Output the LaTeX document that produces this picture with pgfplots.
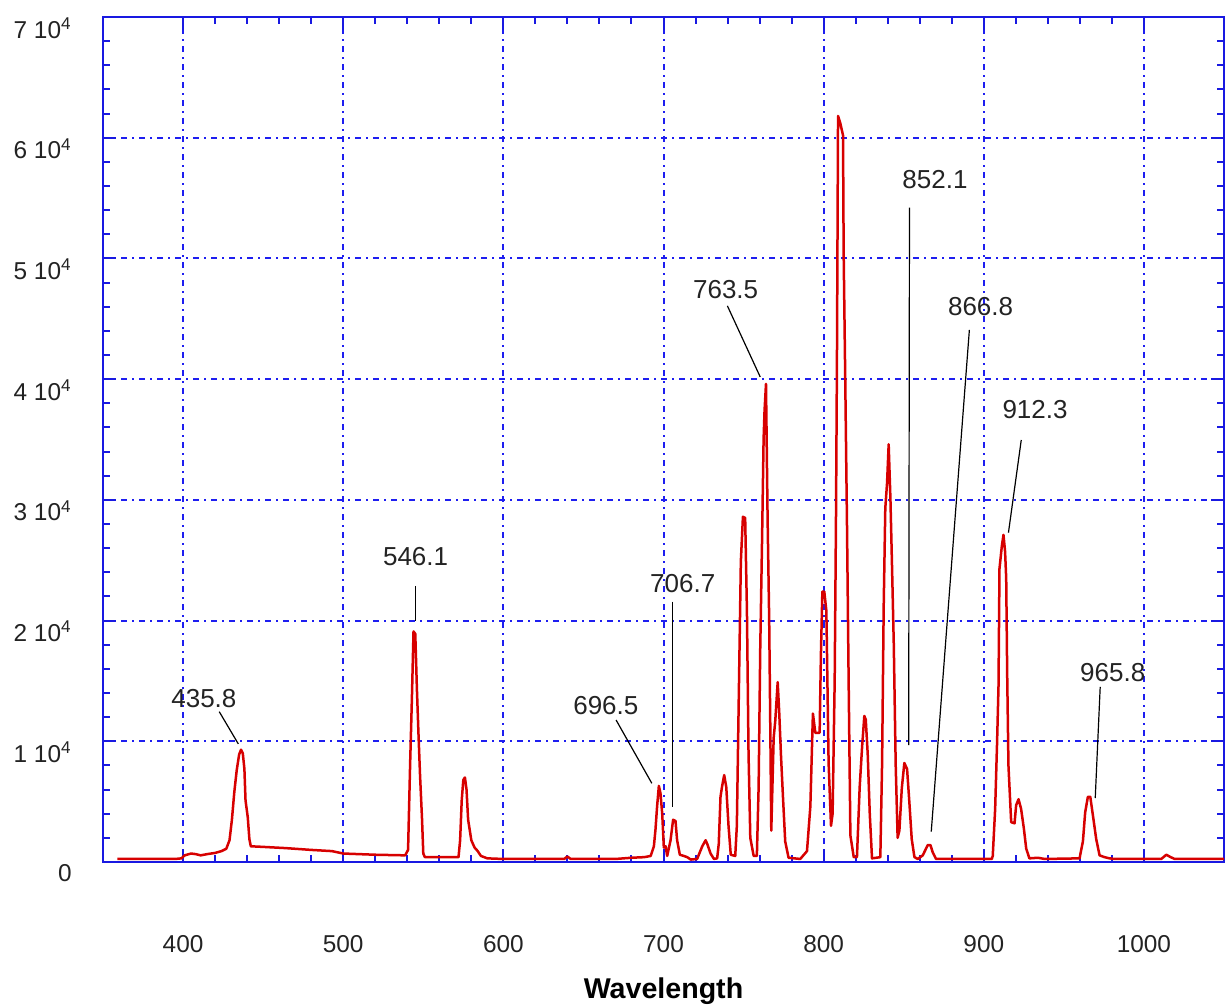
\documentclass[border=0pt]{standalone}
\usepackage{pgfplots}
\pgfplotsset{compat=1.18}
\usepackage{fontspec}
\setmainfont{Liberation Sans}
\definecolor{specred}{RGB}{215,0,0}
\definecolor{axblue}{RGB}{25,25,225}
\definecolor{gridblue}{RGB}{30,30,240}
\definecolor{txt}{RGB}{35,35,35}
\begin{document}
\begin{tikzpicture}
\begin{axis}[
  scale only axis, width=560.5bp, height=422.5bp,
  xmin=350, xmax=1050, ymin=0, ymax=70000,
  axis line style={axblue, line width=1bp},
  xtick={400,500,600,700,800,900,1000},
  xticklabels={400,500,600,700,800,900,1000},
  ytick={0,10000,20000,30000,40000,50000,60000,70000},
  yticklabels={0,{1 10\textsuperscript{4}},{2 10\textsuperscript{4}},{3 10\textsuperscript{4}},{4 10\textsuperscript{4}},{5 10\textsuperscript{4}},{6 10\textsuperscript{4}},{7 10\textsuperscript{4}}},
  minor x tick num=4, minor y tick num=4,
  tick align=inside,
  major tick length=6.5bp, minor tick length=3.5bp,
  every tick/.style={axblue, line width=1bp},
  grid=major,
  grid style={gridblue},
  major grid style={draw=gridblue, line width=1bp, dash pattern=on 3bp off 2.5bp on 1bp off 2.5bp},
  scaled y ticks=false,
  xticklabel style={font=\fontsize{12.2bp}{14bp}\selectfont, text=txt, inner sep=0pt, anchor=north},
  xticklabel shift=36.5bp,
  yticklabel style={font=\fontsize{12.2bp}{14bp}\selectfont, text=txt, inner sep=0pt, anchor=east, yshift=-5.5bp},
  yticklabel shift=15.5bp,
  xlabel={\textbf{Wavelength}},
  xlabel style={font=\fontsize{14.3bp}{16bp}\selectfont, text=black, inner sep=0pt, anchor=north, at={(axis description cs:0.5,0)}, yshift=-57.5bp},
]
\addplot[specred, line width=1.25bp, line join=round] coordinates {
(359,250) (372,250) (380,250) (395,250) (399,300) (401,550) (405,700) (408,650)
(411,550) (415,650) (420,750) (424,900) (427,1100) (429,1800) (430.5,3500) (432,5800)
(433.5,7600) (435,8900) (436.2,9300) (437.3,9000) (438.3,7700) (439,5100) (440.4,3700)
(441.4,1900) (442.3,1300) (450,1250) (464,1150) (480,1000) (493,900) (500,700) (520,600)
(538.7,550) (540.5,1000) (541.8,8200) (542.9,13600) (543.9,19100) (545,18900) (546,14400)
(547,10600) (548,7100) (549.2,3600) (550,700) (551,400) (572,400) (573,1800) (574,5100)
(575,6800) (576,7000) (577,6000) (578,3500) (580,1800) (582,1200) (584,900) (586,500)
(590,300) (600,250) (620,250) (638,250) (640,450) (642,250) (670,250) (680,350) (688,400)
(692,500) (694,1300) (695,2700) (696,4600) (697.1,6300) (698.1,5700) (699.2,4000)
(700.2,1200) (701.3,1300) (702.3,500) (704.4,1800) (706,3500) (707.5,3400) (708.5,1800)
(710.2,600) (712.7,500) (714.8,400) (717,200) (721,250) (724.2,1300) (726.3,1800)
(727.3,1500) (729.4,700) (731.5,250) (733.5,300) (734.5,1500) (735.6,5400) (736.5,6200)
(737.9,7200) (739.2,6200) (740.6,3000) (742,600) (744.8,500) (745.8,3000) (746.9,12700)
(748.3,24900) (749.6,28600) (751,28500) (752.1,20800) (753.1,9000) (754.2,2000)
(756.3,500) (758.3,500) (759.4,6200) (760.4,17600) (761.5,26300) (762.5,35000)
(763.1,37400) (764,39600) (765,28500) (766,20000) (766.7,11000) (767.3,2600)
(768.8,10300) (769.8,11700) (771.3,14900) (772.3,12300) (773.3,9000) (774.6,5400)
(776,1700) (778.1,350) (785.4,250) (789.6,900) (791.7,4600) (793.3,12300) (794.8,10700)
(797.5,10700) (798.3,17200) (799.2,22400) (800.4,22400) (801.7,20800) (802.1,17200)
(803.1,8200) (804.6,3000) (805.6,4000) (806.9,15100) (807.7,28300) (808.3,41300)
(809,61800) (810.4,61200) (812.1,60200) (812.5,50400) (813.5,39900) (814.6,27700)
(815.6,15100) (816.7,2200) (818.8,400) (820.8,400) (822.5,6200) (824,9500) (825.4,12100)
(826.3,11800) (827.5,9000) (828.8,4000) (830.2,300) (835.4,400) (836.5,8200)
(837.5,21200) (838.5,29300) (839.6,31400) (840.6,34600) (841.7,30100) (842.7,24500)
(843.8,18000) (845,8000) (846.2,2000) (847.3,2600) (848.8,6100) (850.4,8200)
(852.1,7700) (853.5,5000) (855,1900) (856.7,400) (858.8,250) (861.9,550) (865,1400)
(866.7,1400) (868.1,800) (870.2,250) (905,250) (905.6,500) (907.1,4400) (908.3,9900)
(909.2,14600) (909.8,24300) (911.3,26200) (912.3,27100) (913.3,25700) (914,23500)
(914.6,15700) (915.4,8000) (917.1,3300) (919.2,3200) (920.2,4700) (921.7,5200)
(923.3,4400) (925,2800) (926.5,1100) (928.5,300) (933.8,350) (938,250) (959.8,300)
(961.9,1700) (963.3,4100) (965,5400) (966.5,5400) (968.1,3900) (970.2,1900)
(972.3,550) (975.4,400) (978.5,300) (981.7,250) (1010.8,250) (1014,600) (1016.7,400)
(1019.2,250) (1050,250)
};
\tikzset{lab/.style={text=txt, inner sep=0pt, font=\fontsize{13bp}{15bp}\selectfont}, lead/.style={black, line width=0.6bp}}
\draw[lead] (422.6,12450) -- (434.5,9780);
\node[lab] at (413,13560) {435.8};
\draw[lead] (544.9,22870) -- (544.9,19970);
\node[lab] at (545.2,25270) {546.1};
\draw[lead] (670.4,11760) -- (692.7,6520);
\node[lab] at (664,12920) {696.5};
\draw[lead] (705.6,21570) -- (705.6,4580);
\node[lab] at (712,23080) {706.7};
\draw[lead] (739.9,46070) -- (760.4,40180);
\node[lab] at (738.8,47390) {763.5};
\draw[lead] (853.6,54210) -- (853.1,9690);
\node[lab] at (869.5,56500) {852.1};
\draw[lead] (891,44080) -- (867.2,2520);
\node[lab] at (898,46000) {866.8};
\draw[lead] (923.4,34960) -- (915.4,27280);
\node[lab] at (932,37450) {912.3};
\draw[lead] (972.7,14510) -- (969.6,5300);
\node[lab] at (980.5,15710) {965.8};
\end{axis}
\pgfresetboundingbox
\path ([shift={(-51.5bp,-73bp)}]current axis.south west) rectangle ([shift={(1.5bp,8.5bp)}]current axis.north east);
\end{tikzpicture}
\end{document}
